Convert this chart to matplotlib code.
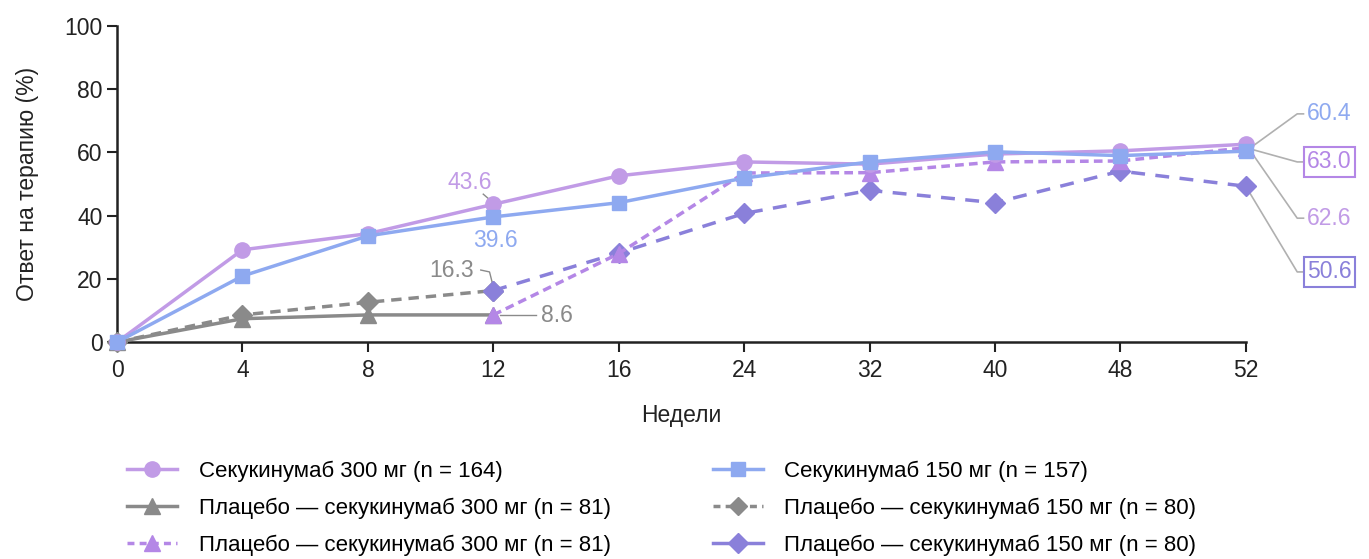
import matplotlib.pyplot as plt
from matplotlib.lines import Line2D

plt.rcParams['font.family'] = ['Liberation Sans', 'DejaVu Sans']

weeks = ["0", "4", "8", "12", "16", "24", "32", "40", "48", "52"]
sec300 = [0, 29.2, 34.3, 43.6, 52.6, 57.0, 56.3, 59.5, 60.5, 62.6]
sec150 = [0, 20.9, 33.6, 39.6, 44.1, 51.9, 57.0, 60.2, 59.0, 60.4]
plac300 = [0, 7.4, 8.6, 8.6]
plac150 = [0, 8.6, 12.6, 16.3]
plac300_sec = [8.6, 28.0, 53.5, 53.6, 57.0, 57.3, 61.5]
plac150_sec = [16.3, 28.2, 40.7, 48.0, 44.1, 54.1, 49.3]

labels = ["Секукинумаб 300 мг (n = 164)",
          "Плацебо — секукинумаб 300 мг (n = 81)",
          "Плацебо — секукинумаб 300 мг (n = 81)",
          "Секукинумаб 150 мг (n = 157)",
          "Плацебо — секукинумаб 150 мг (n = 80)",
          "Плацебо — секукинумаб 150 мг (n = 80)"]

c_sec300 = '#c19be6'
c_sec150 = '#8ea9f0'
c_grey = '#8a8a8a'
c_p300 = '#b487e6'
c_p150 = '#8a80da'
c_lead = '#b0b0b0'
fs = 16.5

x = list(range(len(weeks)))
x_early = x[:4]
x_late = x[3:]

fig = plt.figure(figsize=(13.69, 5.59), dpi=100)
ax = fig.add_axes([0.0855, 0.388, 0.8245, 0.5655])

ax.plot(x_early, plac150, color=c_grey, ls=(0, (3, 2)), lw=2.5, marker='D', ms=10, zorder=3, clip_on=False)
ax.plot(x_early, plac300, color=c_grey, lw=2.5, marker='^', ms=12, zorder=3, clip_on=False)
ax.plot(x_late, plac150_sec, color=c_p150, ls=(0, (4, 3)), lw=2.5, marker='D', ms=10, zorder=3, clip_on=False)
ax.plot(x_late, plac300_sec, color=c_p300, ls=(0, (2.5, 1.5)), lw=2.5, marker='^', ms=11, zorder=3, clip_on=False)
ax.plot(x, sec300, color=c_sec300, lw=2.5, marker='o', ms=11, zorder=4, clip_on=False)
ax.plot(x, sec150, color=c_sec150, lw=2.5, marker='s', ms=10, zorder=5, clip_on=False)

ax.set_xlim(0, 9)
ax.set_ylim(0, 100)
ax.set_xticks(x)
ax.set_xticklabels(weeks)
ax.set_yticks([0, 20, 40, 60, 80, 100])
ax.tick_params(labelsize=fs, width=1.5, length=7, colors='#222222')
ax.tick_params(axis='x', pad=5)
for s in ['top', 'right']:
    ax.spines[s].set_visible(False)
for s in ['left', 'bottom']:
    ax.spines[s].set_linewidth(1.8)
    ax.spines[s].set_color('#222222')
ax.set_xlabel("Недели", fontsize=fs, labelpad=16, color='#222222')
ax.set_ylabel("Ответ на терапию (%)", fontsize=fs, labelpad=18, color='#222222')

# left annotations
ax.text(2.81, 50.6, "43.6", color=c_sec300, fontsize=fs, ha='center', va='center')
ax.plot([2.92, 2.99], [46.8, 44.4], color=c_grey, lw=1)
ax.text(3.02, 32.3, "39.6", color=c_sec150, fontsize=fs, ha='center', va='center')
ax.text(2.67, 22.8, "16.3", color=c_grey, fontsize=fs, ha='center', va='center')
ax.plot([2.9, 2.97, 3.0], [22.8, 22.2, 17.5], color=c_grey, lw=1)
ax.text(3.38, 8.5, "8.6", color=c_grey, fontsize=fs, ha='left', va='center')
ax.plot([3.05, 3.34], [8.6, 8.6], color=c_grey, lw=1)

# right annotations
right = [(sec150[-1], 72.2, "60.4", c_sec150, False),
         (plac300_sec[-1], 57.0, "63.0", c_p300, True),
         (sec300[-1], 39.2, "62.6", c_sec300, False),
         (plac150_sec[-1], 22.2, "50.6", c_p150, True)]
for yv, yt, txt, col, boxed in right:
    ax.plot([9.0, 9.41, 9.46], [yv, yt, yt], color=c_lead, lw=1.2, clip_on=False, zorder=2)
    bbox = dict(boxstyle='square,pad=0.15', fc='white', ec=col, lw=1.5) if boxed else None
    ax.text(9.49, yt, txt, color=col, fontsize=fs, ha='left', va='center', bbox=bbox, clip_on=False)

handles = [
    Line2D([], [], color=c_sec300, lw=2.5, marker='o', ms=11),
    Line2D([], [], color=c_grey, lw=2.5, marker='^', ms=12),
    Line2D([], [], color=c_p300, lw=2.5, ls=(0, (2, 1.5)), marker='^', ms=11),
    Line2D([], [], color=c_sec150, lw=2.5, marker='s', ms=10),
    Line2D([], [], color=c_grey, lw=2.5, ls=(0, (2, 1.5)), marker='D', ms=9),
    Line2D([], [], color=c_p150, lw=2.5, marker='D', ms=10),
]
fig.legend(handles, labels, ncol=2, loc='lower left', bbox_to_anchor=(0.0785, -0.03),
           frameon=False, fontsize=16, handlelength=2.25, handletextpad=0.95,
           columnspacing=4.6, labelspacing=0.71)

fig.savefig("out.png", dpi=100, facecolor='white')
